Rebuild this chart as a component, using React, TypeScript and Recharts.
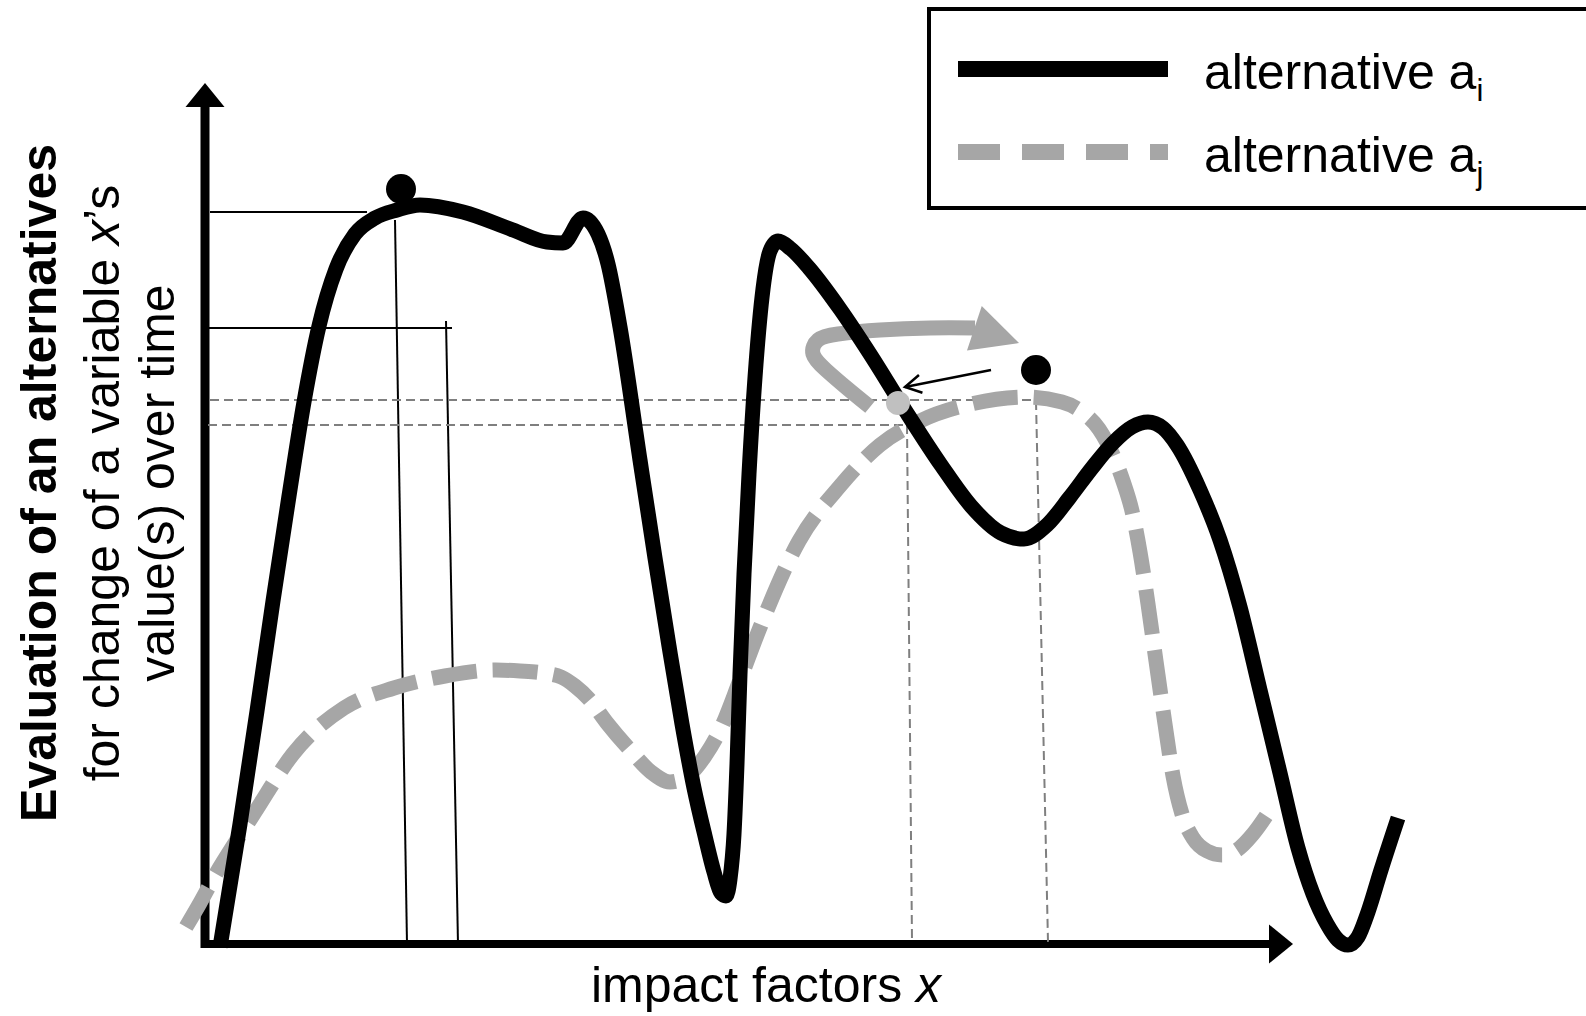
import {
  ComposedChart, Line, XAxis, YAxis, ReferenceLine, ReferenceDot,
} from 'recharts';

const FONT = '"Liberation Sans", Arial, Helvetica, sans-serif';
const GREY = '#a6a6a6';
const GUIDE_GREY = '#7f7f7f';

// alternative a_i (solid black), [x, evaluation]
const ALT_I: [number, number][] = [
  [1.5, -0.3], [3.5, 12.0], [5.2, 23.3], [6.8, 34.3], [8.4, 44.8], [9.9, 54.2],
  [11.4, 61.8], [13.1, 67.5], [15.0, 71.0], [17.0, 72.6], [19.2, 73.4], [21.5, 73.9],
  [25.8, 73.2], [30.8, 71.4], [34.2, 70.2], [35.8, 70.1], [37.8, 72.6], [39.3, 71.0],
  [40.3, 68.0], [41.5, 61.7], [43.5, 48.4], [45.0, 38.6], [46.4, 29.8], [47.7, 22.0],
  [48.9, 15.6], [50.0, 10.8], [50.9, 7.2], [51.6, 5.1], [52.1, 4.8], [52.5, 6.5],
  [52.9, 11.0], [53.2, 18.0], [53.5, 27.0], [53.9, 37.0], [54.4, 47.0], [55.1, 58.0],
  [55.8, 65.5], [56.5, 69.3], [57.3, 70.3], [58.6, 69.5], [60.4, 67.6], [63.5, 63.5],
  [66.5, 59.0], [70.0, 53.4], [73.6, 47.9], [76.6, 43.8], [79.6, 41.1], [81.9, 40.5],
  [84.2, 41.9], [86.5, 44.7], [88.7, 47.6], [90.8, 50.1], [92.7, 51.7], [94.3, 52.2],
  [95.8, 51.6], [97.2, 49.9], [99.5, 45.4], [101.5, 40.4], [103.5, 33.7], [105.5, 25.4],
  [107.5, 17.1], [109.3, 9.6], [110.8, 5.0], [112.2, 2.0], [113.3, 0.4], [114.3, -0.1],
  [115.3, 0.7], [116.3, 3.2], [117.6, 7.4], [119.3, 12.6],
];

// alternative a_j (dashed grey)
const ALT_J: [number, number][] = [
  [-1.9, 1.7], [-0.5, 4.1], [1.2, 7.2], [3.0, 10.1], [5.0, 13.2], [8.8, 19.0],
  [13.9, 23.6], [18.9, 25.6], [24.0, 26.8], [29.1, 27.4], [31.5, 27.3], [33.8, 27.1],
  [35.6, 26.7], [37.0, 25.8], [38.4, 24.5], [40.2, 22.1], [42.5, 19.4], [44.6, 17.2],
  [46.5, 16.2], [48.4, 16.9], [50.0, 18.8], [51.6, 21.6], [53.5, 26.4], [55.4, 31.4],
  [59.4, 40.3], [63.5, 45.8], [67.5, 49.9], [71.5, 52.3], [76.6, 54.0], [82.0, 54.7],
  [85.7, 54.2], [87.7, 53.2], [89.4, 51.5], [90.8, 48.9], [91.8, 46.3], [92.7, 43.3],
  [93.5, 39.2], [94.3, 34.0], [95.1, 28.3], [96.0, 22.0], [96.8, 16.8], [97.7, 13.0],
  [98.8, 10.6], [100.2, 9.3], [101.7, 8.9], [103.2, 9.4], [104.8, 11.0], [106.5, 13.4],
];

// curved grey arrow (shift of the optimum) and its tip
const SHIFT_PATH: [number, number][] = [
  [66.5, 53.7], [64.3, 55.5], [62.1, 57.4], [60.8, 59.0], [61.3, 60.4],
  [63.3, 61.0], [67.5, 61.4], [72.5, 61.6], [77.0, 61.6],
];
const SHIFT_TIP: [number, number] = [81.4, 60.1];

// thin pointer from the a_j optimum to the crossing
const POINTER: [number, number][] = [[78.6, 57.4], [70.0, 55.7]];
const CROSSING: [number, number] = [69.3, 54.1];

// maxima markers
const OPTIMA: [number, number][] = [[19.6, 75.5], [83.1, 57.4]];

// guide lines
const GUIDES_SOLID: [number, number][][] = [
  [[0.5, 73.2], [16.2, 73.2]],
  [[19.0, 72.4], [20.2, 0]],
  [[0.3, 61.6], [24.7, 61.6]],
  [[24.1, 62.3], [25.3, 0]],
];
const GUIDES_DASHED: [number, number][][] = [
  [[0.5, 54.4], [83.1, 54.4]],
  [[83.1, 54.3], [84.3, 0.2]],
  [[0.3, 51.9], [70.2, 51.9]],
  [[70.2, 51.9], [70.7, 0.4]],
];

const X_AXIS_END = 106.7;
const X_AXIS_TIP = 108.8;
const Y_AXIS_END = 83.9;
const Y_AXIS_TIP = 86.1;

const toPts = (rows: [number, number][]) => rows.map(([x, y]) => ({ x, y }));

function arrowHead(angleDeg: number, len: number, half: number, fill: string) {
  return (p: any) => {
    const a = (angleDeg * Math.PI) / 180;
    const dx = Math.cos(a);
    const dy = Math.sin(a);
    const bx = p.cx - dx * len;
    const by = p.cy - dy * len;
    const pts = [
      [p.cx, p.cy],
      [bx - dy * half, by + dx * half],
      [bx + dy * half, by - dx * half],
    ];
    return <polygon points={pts.map(q => q.join(',')).join(' ')} fill={fill} />;
  };
}

function openHead(angleDeg: number, len: number, half: number) {
  return (p: any) => {
    const a = (angleDeg * Math.PI) / 180;
    const dx = Math.cos(a);
    const dy = Math.sin(a);
    const bx = p.cx - dx * len;
    const by = p.cy - dy * len;
    const pts = [
      [bx - dy * half, by + dx * half],
      [p.cx, p.cy],
      [bx + dy * half, by - dx * half],
    ];
    return <polyline points={pts.map(q => q.join(',')).join(' ')} fill="none" stroke="#000" strokeWidth={2.5} />;
  };
}

export default function App() {
  return (
    <div style={{ position: 'absolute', left: 0, top: 0, width: 1586, height: 1016, background: '#fff' }}>
      <ComposedChart width={1586} height={1016} margin={{ top: 0, right: 0, bottom: 0, left: 0 }}>
        <XAxis type="number" dataKey="x" domain={[-20.5, 138.1]} allowDataOverflow hide />
        <YAxis type="number" domain={[-7.2, 94.4]} allowDataOverflow hide />

        {/* axes */}
        <ReferenceLine segment={[{ x: 0, y: -0.4 }, { x: 0, y: Y_AXIS_END }]} stroke="#000" strokeWidth={9} />
        <ReferenceLine segment={[{ x: -0.4, y: 0 }, { x: X_AXIS_END, y: 0 }]} stroke="#000" strokeWidth={8} />
        <ReferenceDot x={0} y={Y_AXIS_TIP} r={1} shape={arrowHead(-90, 24, 19.5, '#000')} />
        <ReferenceDot x={X_AXIS_TIP} y={0} r={1} shape={arrowHead(0, 24, 19.5, '#000')} />

        {GUIDES_SOLID.map((s, i) => (
          <ReferenceLine key={'gs' + i} segment={toPts(s)} stroke="#000" strokeWidth={2} />
        ))}
        {GUIDES_DASHED.map((s, i) => (
          <ReferenceLine key={'gd' + i} segment={toPts(s)} stroke={GUIDE_GREY} strokeWidth={2} strokeDasharray="9 5" />
        ))}

        <ReferenceDot x={CROSSING[0]} y={CROSSING[1]} r={12} fill="#c0c0c0" stroke="none" />

        <Line
          data={toPts(SHIFT_PATH)} dataKey="y" type="natural" stroke={GREY} strokeWidth={15}
          dot={false} activeDot={false} isAnimationActive={false} strokeLinecap="butt"
        />
        <ReferenceDot x={SHIFT_TIP[0]} y={SHIFT_TIP[1]} r={1} shape={arrowHead(18.3, 47, 23.5, GREY)} />

        <Line
          data={toPts(ALT_J)} dataKey="y" type="monotone" stroke={GREY} strokeWidth={15}
          strokeDasharray="45 16" dot={false} activeDot={false} isAnimationActive={false}
        />
        <Line
          data={toPts(ALT_I)} dataKey="y" type="monotone" stroke="#000" strokeWidth={15}
          dot={false} activeDot={false} isAnimationActive={false}
        />

        <ReferenceLine segment={toPts(POINTER)} stroke="#000" strokeWidth={2.5} />
        <ReferenceDot x={POINTER[1][0]} y={POINTER[1][1]} r={1} shape={openHead(168.8, 16, 9)} />

        {OPTIMA.map(([x, y], i) => (
          <ReferenceDot key={'o' + i} x={x} y={y} r={15} fill="#000" stroke="none" />
        ))}

        {/* legend */}
        <g>
          <rect x={929} y={9} width={700} height={199} fill="#fff" stroke="#000" strokeWidth={4} />
          <line x1={958} y1={69} x2={1168} y2={69} stroke="#000" strokeWidth={16} />
          <line x1={958} y1={152} x2={1168} y2={152} stroke={GREY} strokeWidth={16} strokeDasharray="42 22" />
          <text x={1204} y={89} fontFamily={FONT} fontSize={50} fill="#000">
            alternative a<tspan fontSize={31} dy={12}>i</tspan>
          </text>
          <text x={1204} y={172} fontFamily={FONT} fontSize={50} fill="#000">
            alternative a<tspan fontSize={31} dy={12}>j</tspan>
          </text>
        </g>

        {/* axis titles */}
        <text x={766} y={1002} textAnchor="middle" fontFamily={FONT} fontSize={50} fill="#000">
          impact factors <tspan fontStyle="italic">x</tspan>
        </text>
        <g transform="translate(56,483) rotate(-90)">
          <text x={0} y={0} textAnchor="middle" fontFamily={FONT} fontSize={50} fontWeight="bold" fill="#000">
            Evaluation of an alternatives
          </text>
        </g>
        <g transform="translate(119,483) rotate(-90)">
          <text x={0} y={0} textAnchor="middle" fontFamily={FONT} fontSize={50} fill="#000">
            for change of a variable <tspan fontStyle="italic">x</tspan>’s
          </text>
        </g>
        <g transform="translate(174,483) rotate(-90)">
          <text x={0} y={0} textAnchor="middle" fontFamily={FONT} fontSize={50} fill="#000">
            value(s) over time
          </text>
        </g>
      </ComposedChart>
    </div>
  );
}
